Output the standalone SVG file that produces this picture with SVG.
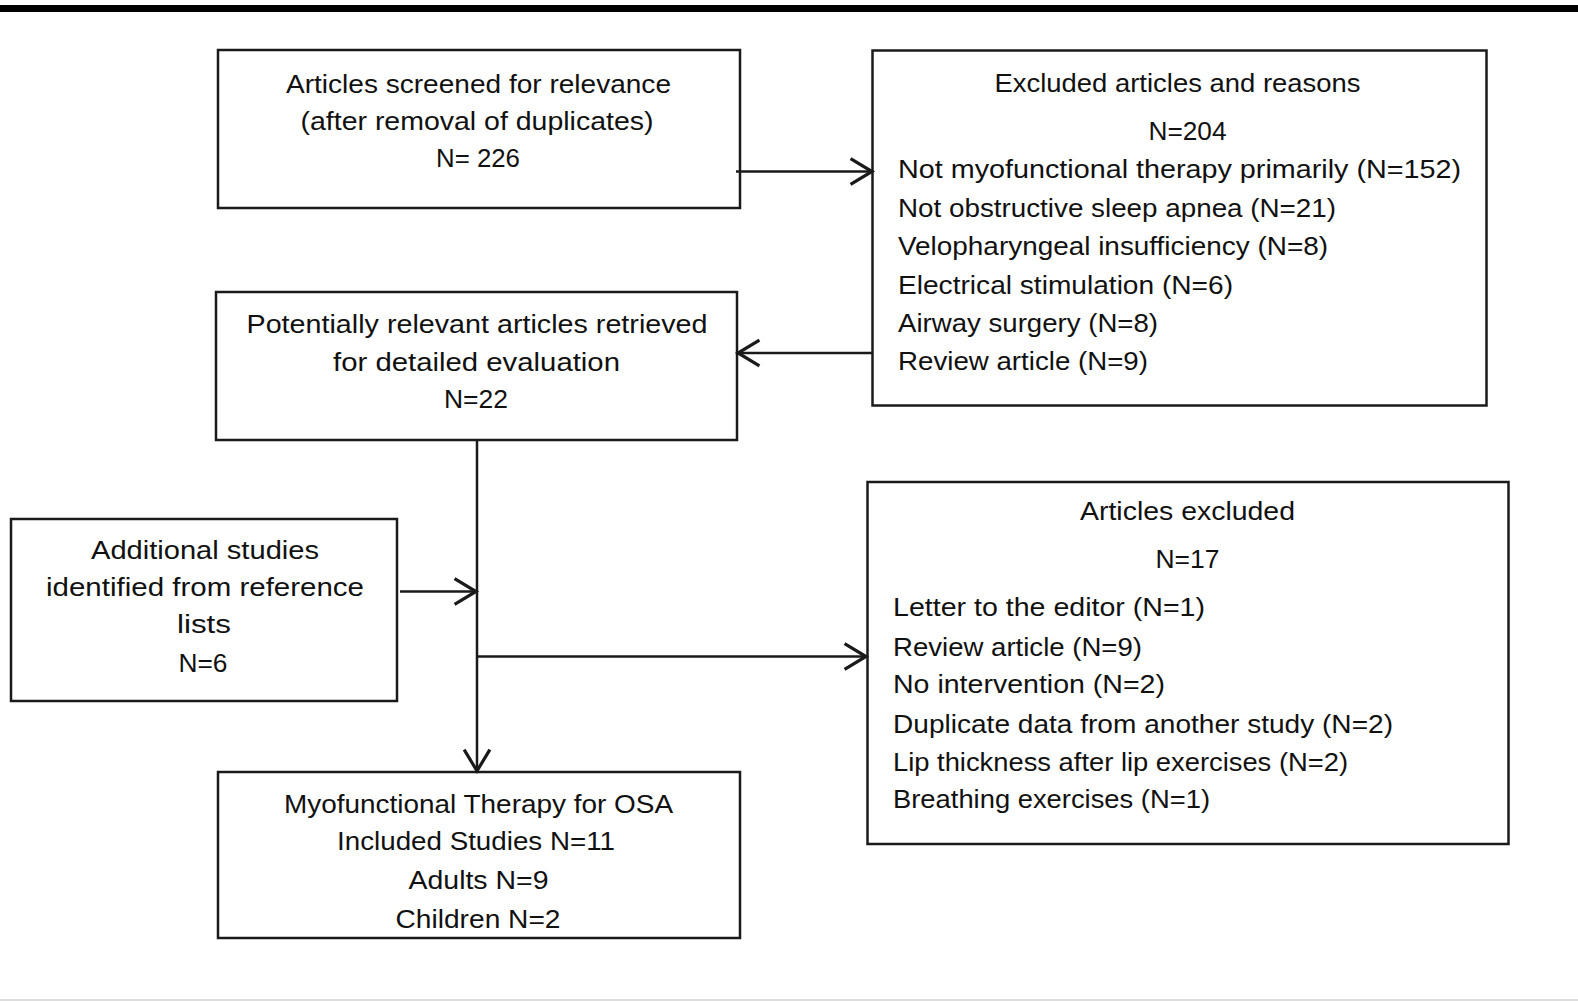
<svg xmlns="http://www.w3.org/2000/svg" width="1578" height="1001" viewBox="0 0 1578 1001">
<style>
.box{fill:#fff;stroke:#1a1a1a;stroke-width:2.5}
.t{font-family:"Liberation Sans",Arial,sans-serif;font-size:26px;fill:#111}
.c{text-anchor:middle}
.conn{stroke:#1a1a1a;stroke-width:2.5;fill:none}
</style>
<defs>
<marker id="arr" markerUnits="userSpaceOnUse" markerWidth="30" markerHeight="30" viewBox="-22 -14 24 28" refX="0" refY="0" orient="auto">
<path d="M-20,-12 L0,0 L-20,12" fill="none" stroke="#1a1a1a" stroke-width="3"/>
</marker>
</defs>
<rect width="1578" height="1001" fill="#fff"/>
<rect x="0" y="5" width="1578" height="7" fill="#000"/>
<rect x="0" y="999" width="1578" height="2" fill="#ddd"/>

<g id="node-screened">
<rect class="box" x="218" y="50" width="522" height="158"/>
<text class="t c" x="478.5" y="92.5" textLength="385" lengthAdjust="spacingAndGlyphs">Articles screened for relevance</text>
<text class="t c" x="477" y="129.5" textLength="353" lengthAdjust="spacingAndGlyphs">(after removal of duplicates)</text>
<text class="t c" x="478" y="166.5" textLength="84" lengthAdjust="spacingAndGlyphs">N= 226</text>
</g>

<g id="node-excluded-reasons">
<rect class="box" x="872.5" y="50.5" width="614" height="355"/>
<text class="t c" x="1177.5" y="92" textLength="366" lengthAdjust="spacingAndGlyphs">Excluded articles and reasons</text>
<text class="t c" x="1187.5" y="139.5" textLength="78" lengthAdjust="spacingAndGlyphs">N=204</text>
<text class="t" x="898" y="177.5" textLength="563" lengthAdjust="spacingAndGlyphs">Not myofunctional therapy primarily  (N=152)</text>
<text class="t" x="898" y="216.5" textLength="438" lengthAdjust="spacingAndGlyphs">Not obstructive sleep apnea (N=21)</text>
<text class="t" x="898" y="255" textLength="430" lengthAdjust="spacingAndGlyphs">Velopharyngeal insufficiency (N=8)</text>
<text class="t" x="898" y="294" textLength="335" lengthAdjust="spacingAndGlyphs">Electrical stimulation (N=6)</text>
<text class="t" x="898" y="332" textLength="260" lengthAdjust="spacingAndGlyphs">Airway surgery (N=8)</text>
<text class="t" x="898" y="369.5" textLength="250" lengthAdjust="spacingAndGlyphs">Review article (N=9)</text>
</g>

<g id="node-retrieved">
<rect class="box" x="216" y="292" width="521" height="148"/>
<text class="t c" x="477" y="333" textLength="461" lengthAdjust="spacingAndGlyphs">Potentially relevant articles retrieved</text>
<text class="t c" x="476.5" y="370.5" textLength="287" lengthAdjust="spacingAndGlyphs">for detailed evaluation</text>
<text class="t c" x="476" y="407.5" textLength="64" lengthAdjust="spacingAndGlyphs">N=22</text>
</g>

<g id="node-additional">
<rect class="box" x="11" y="519" width="386" height="182"/>
<text class="t c" x="205" y="558.5" textLength="228" lengthAdjust="spacingAndGlyphs">Additional studies</text>
<text class="t c" x="205" y="596" textLength="318" lengthAdjust="spacingAndGlyphs">identified from reference</text>
<text class="t c" x="204" y="633" textLength="54" lengthAdjust="spacingAndGlyphs">lists</text>
<text class="t c" x="203" y="672" textLength="49" lengthAdjust="spacingAndGlyphs">N=6</text>
</g>

<g id="node-articles-excluded">
<rect class="box" x="867.5" y="482" width="641" height="362"/>
<text class="t c" x="1187.5" y="520" textLength="215" lengthAdjust="spacingAndGlyphs">Articles excluded</text>
<text class="t c" x="1187.5" y="567.5" textLength="64" lengthAdjust="spacingAndGlyphs">N=17</text>
<text class="t" x="893" y="615.5" textLength="312" lengthAdjust="spacingAndGlyphs">Letter to the editor (N=1)</text>
<text class="t" x="893" y="655.5" textLength="249" lengthAdjust="spacingAndGlyphs">Review article (N=9)</text>
<text class="t" x="893" y="692.5" textLength="272" lengthAdjust="spacingAndGlyphs">No intervention (N=2)</text>
<text class="t" x="893" y="732.5" textLength="500" lengthAdjust="spacingAndGlyphs">Duplicate data from another study (N=2)</text>
<text class="t" x="893" y="770.5" textLength="455" lengthAdjust="spacingAndGlyphs">Lip thickness after lip exercises (N=2)</text>
<text class="t" x="893" y="808" textLength="317" lengthAdjust="spacingAndGlyphs">Breathing exercises (N=1)</text>
</g>

<g id="node-included">
<rect class="box" x="218" y="772" width="522" height="166"/>
<text class="t c" x="478.5" y="813" textLength="389" lengthAdjust="spacingAndGlyphs">Myofunctional Therapy for OSA</text>
<text class="t c" x="476" y="850" textLength="278" lengthAdjust="spacingAndGlyphs">Included Studies N=11</text>
<text class="t c" x="478.5" y="888.5" textLength="140" lengthAdjust="spacingAndGlyphs">Adults N=9</text>
<text class="t c" x="478" y="928" textLength="165" lengthAdjust="spacingAndGlyphs">Children N=2</text>
</g>

<g id="connectors">
<line class="conn" x1="736" y1="171.5" x2="872" y2="171.5" marker-end="url(#arr)"/>
<line class="conn" x1="872" y1="353" x2="738" y2="353" marker-end="url(#arr)"/>
<line class="conn" x1="477" y1="440" x2="477" y2="771" marker-end="url(#arr)"/>
<line class="conn" x1="400" y1="591.5" x2="476" y2="591.5" marker-end="url(#arr)"/>
<line class="conn" x1="477" y1="656.5" x2="866" y2="656.5" marker-end="url(#arr)"/>
</g>
</svg>
